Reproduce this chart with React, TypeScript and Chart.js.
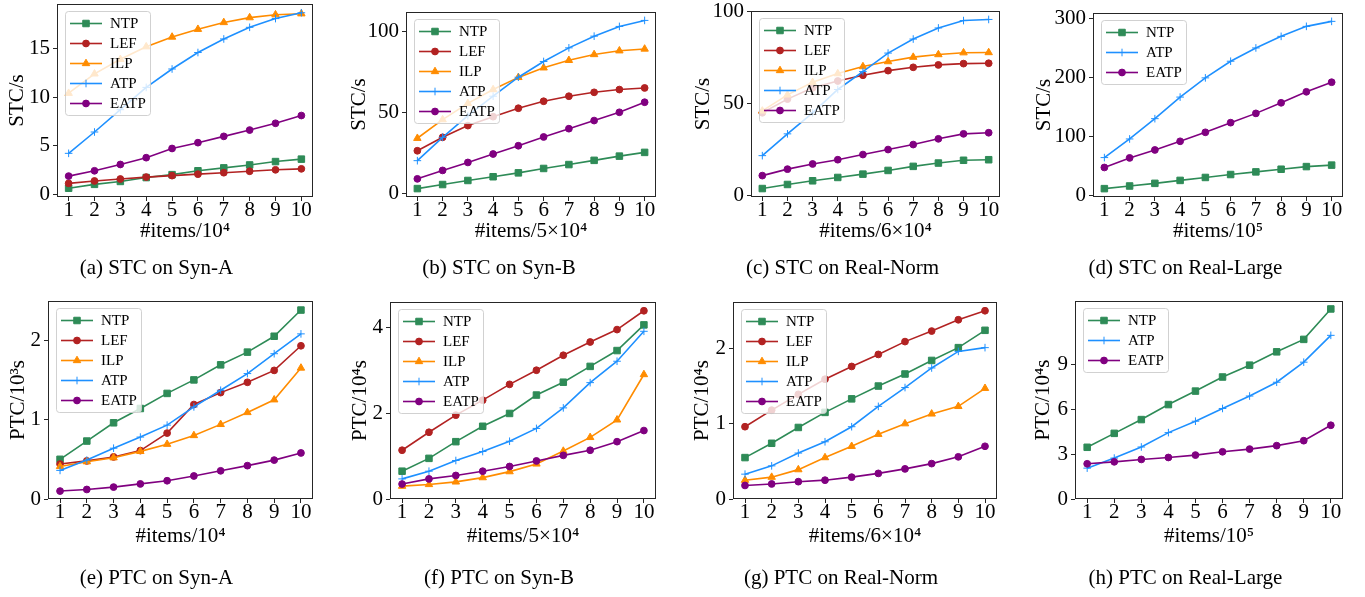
import React, { useEffect, useRef } from 'react';
import { Chart, registerables, PointElement } from 'chart.js';

Chart.register(...registerables);

const FONT_FAMILY = '"Liberation Serif", "Times New Roman", Times, serif';
Chart.defaults.font.family = FONT_FAMILY;
Chart.defaults.color = '#000';

// ---------- shared x axis ----------
const X_VALUES = [1, 2, 3, 4, 5, 6, 7, 8, 9, 10];
const X_TICKS = [1, 2, 3, 4, 5, 6, 7, 8, 9, 10];
const X_MIN = 0.55;
const X_MAX = 10.45;

// ---------- (a) STC on Syn-A ----------
const A_NTP = [0.6, 1.0, 1.3, 1.7, 2.0, 2.4, 2.7, 3.0, 3.35, 3.6];
const A_LEF = [1.1, 1.35, 1.55, 1.75, 1.9, 2.05, 2.2, 2.35, 2.5, 2.6];
const A_ILP = [10.4, 12.4, 13.9, 15.2, 16.2, 17.0, 17.7, 18.2, 18.5, 18.6];
const A_ATP = [4.2, 6.4, 8.7, 11.0, 12.9, 14.6, 16.0, 17.2, 18.1, 18.7];
const A_EATP = [1.85, 2.4, 3.05, 3.75, 4.7, 5.3, 5.95, 6.6, 7.3, 8.1];
const A_YTICKS = [0, 5, 10, 15];

// ---------- (b) STC on Syn-B ----------
const B_NTP = [3.0, 5.5, 8.0, 10.3, 12.7, 15.4, 17.8, 20.4, 23.0, 25.3];
const B_LEF = [26.3, 34.6, 41.8, 47.3, 52.5, 56.8, 59.9, 62.3, 64.0, 65.0];
const B_ILP = [34.0, 45.5, 55.5, 64.0, 71.5, 77.4, 82.0, 85.6, 87.9, 89.0];
const B_ATP = [20.2, 34.6, 47.9, 59.9, 71.6, 81.3, 89.7, 96.9, 102.9, 106.6];
const B_EATP = [9.0, 14.2, 19.1, 24.3, 29.4, 34.8, 39.9, 44.9, 50.0, 56.2];
const B_YTICKS = [0, 50, 100];

// ---------- (c) STC on Real-Norm ----------
const C_NTP = [4.0, 6.2, 8.2, 10.0, 11.8, 13.8, 16.0, 17.8, 19.3, 19.6];
const C_LEF = [45.0, 52.4, 58.5, 62.2, 65.3, 67.8, 69.6, 70.9, 71.6, 71.8];
const C_ILP = [46.0, 54.7, 61.5, 66.2, 70.0, 72.7, 75.1, 76.5, 77.5, 77.6];
const C_ATP = [21.8, 33.6, 45.0, 57.6, 67.3, 77.3, 84.9, 90.9, 94.9, 95.5];
const C_EATP = [11.0, 14.5, 17.3, 19.6, 22.4, 25.1, 27.8, 30.9, 33.6, 34.2];
const C_YTICKS = [0, 50, 100];

// ---------- (d) STC on Real-Large ----------
const D_NTP = [11, 15.5, 20, 25, 30, 35, 39.5, 44, 48.5, 51];
const D_ATP = [63.8, 95.5, 130, 166.7, 199.4, 227.7, 250.3, 270, 287, 295.5];
const D_EATP = [47, 63.3, 76.8, 91.5, 106.8, 123.2, 139, 157, 175.7, 192];
const D_YTICKS = [0, 100, 200, 300];

// ---------- (e) PTC on Syn-A ----------
const E_NTP = [0.5, 0.73, 0.96, 1.14, 1.33, 1.5, 1.69, 1.85, 2.05, 2.38];
const E_LEF = [0.44, 0.48, 0.53, 0.61, 0.83, 1.19, 1.34, 1.47, 1.62, 1.93];
const E_ILP = [0.41, 0.47, 0.52, 0.6, 0.69, 0.8, 0.94, 1.09, 1.25, 1.65];
const E_ATP = [0.36, 0.49, 0.64, 0.78, 0.93, 1.16, 1.37, 1.58, 1.83, 2.08];
const E_EATP = [0.1, 0.12, 0.15, 0.19, 0.23, 0.29, 0.355, 0.42, 0.49, 0.58];
const E_YTICKS = [0, 1, 2];

// ---------- (f) PTC on Syn-B ----------
const F_NTP = [0.65, 0.95, 1.34, 1.7, 2.0, 2.43, 2.73, 3.1, 3.47, 4.07];
const F_LEF = [1.14, 1.56, 1.96, 2.31, 2.68, 3.01, 3.36, 3.67, 3.96, 4.4];
const F_ILP = [0.3, 0.34, 0.4, 0.5, 0.64, 0.82, 1.12, 1.44, 1.85, 2.91];
const F_ATP = [0.47, 0.65, 0.9, 1.11, 1.35, 1.65, 2.13, 2.72, 3.22, 3.92];
const F_EATP = [0.35, 0.47, 0.55, 0.65, 0.76, 0.89, 1.02, 1.14, 1.34, 1.6];
const F_YTICKS = [0, 2, 4];

// ---------- (g) PTC on Real-Norm ----------
const G_NTP = [0.55, 0.74, 0.95, 1.15, 1.33, 1.5, 1.66, 1.84, 2.01, 2.24];
const G_LEF = [0.96, 1.18, 1.39, 1.59, 1.76, 1.92, 2.09, 2.23, 2.38, 2.5];
const G_ILP = [0.25, 0.29, 0.39, 0.55, 0.7, 0.86, 1.0, 1.13, 1.23, 1.47];
const G_ATP = [0.33, 0.44, 0.61, 0.76, 0.96, 1.23, 1.48, 1.74, 1.96, 2.01];
const G_EATP = [0.18, 0.2, 0.23, 0.25, 0.29, 0.34, 0.4, 0.47, 0.56, 0.7];
const G_YTICKS = [0, 1, 2];

// ---------- (h) PTC on Real-Large ----------
const H_NTP = [3.45, 4.38, 5.3, 6.3, 7.2, 8.14, 8.93, 9.82, 10.65, 12.68];
const H_ATP = [2.06, 2.73, 3.47, 4.43, 5.19, 6.04, 6.87, 7.79, 9.13, 10.92];
const H_EATP = [2.35, 2.48, 2.64, 2.77, 2.93, 3.15, 3.33, 3.56, 3.89, 4.92];
const H_YTICKS = [0, 3, 6, 9];

// ---------- series styles ----------
const SERIES_STYLE: Record<string, { color: string; pointStyle: string; radius: number }> = {
  NTP: { color: '#2e8b57', pointStyle: 'rect', radius: 4.6 },
  LEF: { color: '#b22222', pointStyle: 'circle', radius: 3.4 },
  ILP: { color: '#ff8c00', pointStyle: 'triangle', radius: 4.3 },
  ATP: { color: '#1e90ff', pointStyle: 'cross', radius: 3.8 },
  EATP: { color: '#800080', pointStyle: 'circle', radius: 3.4 },
};

type Series = { name: string; values: number[] };
type PanelCfg = {
  key: string;
  caption: string;
  xTitle: string;
  yTitle: string;
  yTicks: number[];
  yFloor?: number;
  series: Series[];
};

const PANELS: PanelCfg[] = [
  {
    key: 'a', caption: '(a) STC on Syn-A', xTitle: '#items/10⁴', yTitle: 'STC/s', yTicks: A_YTICKS,
    series: [
      { name: 'NTP', values: A_NTP }, { name: 'LEF', values: A_LEF }, { name: 'ILP', values: A_ILP },
      { name: 'ATP', values: A_ATP }, { name: 'EATP', values: A_EATP },
    ],
  },
  {
    key: 'b', caption: '(b) STC on Syn-B', xTitle: '#items/5×10⁴', yTitle: 'STC/s', yTicks: B_YTICKS,
    series: [
      { name: 'NTP', values: B_NTP }, { name: 'LEF', values: B_LEF }, { name: 'ILP', values: B_ILP },
      { name: 'ATP', values: B_ATP }, { name: 'EATP', values: B_EATP },
    ],
  },
  {
    key: 'c', caption: '(c) STC on Real-Norm', xTitle: '#items/6×10⁴', yTitle: 'STC/s', yTicks: C_YTICKS,
    series: [
      { name: 'NTP', values: C_NTP }, { name: 'LEF', values: C_LEF }, { name: 'ILP', values: C_ILP },
      { name: 'ATP', values: C_ATP }, { name: 'EATP', values: C_EATP },
    ],
  },
  {
    key: 'd', caption: '(d) STC on Real-Large', xTitle: '#items/10⁵', yTitle: 'STC/s', yTicks: D_YTICKS,
    series: [
      { name: 'NTP', values: D_NTP }, { name: 'ATP', values: D_ATP }, { name: 'EATP', values: D_EATP },
    ],
  },
  {
    key: 'e', caption: '(e) PTC on Syn-A', xTitle: '#items/10⁴', yTitle: 'PTC/10³s', yTicks: E_YTICKS, yFloor: 0,
    series: [
      { name: 'NTP', values: E_NTP }, { name: 'LEF', values: E_LEF }, { name: 'ILP', values: E_ILP },
      { name: 'ATP', values: E_ATP }, { name: 'EATP', values: E_EATP },
    ],
  },
  {
    key: 'f', caption: '(f) PTC on Syn-B', xTitle: '#items/5×10⁴', yTitle: 'PTC/10⁴s', yTicks: F_YTICKS, yFloor: 0,
    series: [
      { name: 'NTP', values: F_NTP }, { name: 'LEF', values: F_LEF }, { name: 'ILP', values: F_ILP },
      { name: 'ATP', values: F_ATP }, { name: 'EATP', values: F_EATP },
    ],
  },
  {
    key: 'g', caption: '(g) PTC on Real-Norm', xTitle: '#items/6×10⁴', yTitle: 'PTC/10⁴s', yTicks: G_YTICKS, yFloor: 0,
    series: [
      { name: 'NTP', values: G_NTP }, { name: 'LEF', values: G_LEF }, { name: 'ILP', values: G_ILP },
      { name: 'ATP', values: G_ATP }, { name: 'EATP', values: G_EATP },
    ],
  },
  {
    key: 'h', caption: '(h) PTC on Real-Large', xTitle: '#items/10⁵', yTitle: 'PTC/10⁴s', yTicks: H_YTICKS, yFloor: 0,
    series: [
      { name: 'NTP', values: H_NTP }, { name: 'ATP', values: H_ATP }, { name: 'EATP', values: H_EATP },
    ],
  },
];

// ---------- layout (page pixel coordinates) ----------
type Geom = {
  left: number; top: number; width: number; height: number;
  plotL: number; plotR: number; plotT: number; plotB: number;
  yTitleX: number; xTickY: number; xTitleY: number; captionY: number;
};
const ROW1 = { top: 0, height: 292, plotB: 197, xTickY: 210, xTitleY: 231, captionY: 268 };
const ROW2 = { top: 292, height: 305, plotB: 499, xTickY: 512.5, xTitleY: 536, captionY: 578 };
const GEOMS: Record<string, Geom> = {
  a: { ...ROW1, left: 0, width: 320, plotL: 57, plotR: 313, plotT: 4, yTitleX: 17 },
  b: { ...ROW1, left: 342, width: 320, plotL: 406, plotR: 656, plotT: 12, yTitleX: 359 },
  c: { ...ROW1, left: 685, width: 320, plotL: 751, plotR: 1000, plotT: 11, yTitleX: 703 },
  d: { ...ROW1, left: 1028, width: 320, plotL: 1093, plotR: 1343, plotT: 13, yTitleX: 1044 },
  e: { ...ROW2, left: 0, width: 320, plotL: 48, plotR: 313, plotT: 301, yTitleX: 18 },
  f: { ...ROW2, left: 342, width: 320, plotL: 390, plotR: 656, plotT: 302, yTitleX: 360 },
  g: { ...ROW2, left: 685, width: 320, plotL: 733, plotR: 997, plotT: 302, yTitleX: 702 },
  h: { ...ROW2, left: 1028, width: 320, plotL: 1075, plotR: 1343, plotT: 301, yTitleX: 1043 },
};

const TICK_FONT = 21;
const TITLE_FONT = 21;
const CAPTION_FONT = 21;
const LEGEND_FONT = 15;
const TICK_LEN = 4;
const AXIS_COLOR = '#262626';

// frame + in-plot legend (drawn above the lines, like matplotlib)
const decorPlugin = {
  id: 'figDecor',
  afterDatasetsDraw(chart: any) {
    const ctx: CanvasRenderingContext2D = chart.ctx;
    const a = chart.chartArea;
    ctx.save();
    ctx.strokeStyle = AXIS_COLOR;
    ctx.lineWidth = 1;
    ctx.strokeRect(a.left + 0.5, a.top + 0.5, a.right - a.left - 1, a.bottom - a.top - 1);

    const items = chart.data.datasets;
    const lx = Math.round(a.left + 8);
    const ly = Math.round(a.top + 7);
    ctx.font = `${LEGEND_FONT}px ${FONT_FAMILY}`;
    const textW = Math.max(...items.map((d: any) => ctx.measureText(d.label).width));
    const w = Math.round(45 + textW + 4);
    const h = 12 + (items.length - 1) * 20 + 12;
    ctx.beginPath();
    (ctx as any).roundRect(lx + 0.5, ly + 0.5, w, h, 3);
    ctx.fillStyle = 'rgba(255,255,255,0.8)';
    ctx.fill();
    ctx.strokeStyle = 'rgba(204,204,204,0.9)';
    ctx.lineWidth = 1;
    ctx.stroke();

    items.forEach((d: any, i: number) => {
      const cy = ly + 12.5 + i * 20;
      ctx.strokeStyle = d.borderColor;
      ctx.lineWidth = d.borderWidth;
      ctx.beginPath();
      ctx.moveTo(lx + 5, cy);
      ctx.lineTo(lx + 37, cy);
      ctx.stroke();
      const pt: any = new (PointElement as any)({
        x: lx + 21,
        y: cy,
        options: {
          pointStyle: d.pointStyle,
          radius: d.pointRadius,
          borderWidth: d.pointBorderWidth,
          backgroundColor: d.pointBackgroundColor,
          borderColor: d.pointBorderColor,
          rotation: 0,
        },
      });
      pt.draw(ctx, a);
      ctx.fillStyle = '#000';
      ctx.textBaseline = 'middle';
      ctx.textAlign = 'left';
      ctx.font = `${LEGEND_FONT}px ${FONT_FAMILY}`;
      ctx.fillText(d.label, lx + 45, cy + 1);
    });
    ctx.restore();
  },
};

function yRange(series: Series[], floor?: number) {
  const all = series.flatMap((s) => s.values);
  const lo = Math.min(...all);
  const hi = Math.max(...all);
  const m = (hi - lo) * 0.05;
  return { min: floor !== undefined ? floor : lo - m, max: hi + m };
}

function buildConfig(cfg: PanelCfg, g: Geom): any {
  const bottom = g.top + g.height;
  const capPb = bottom - g.captionY - CAPTION_FONT / 2;
  const capBox = CAPTION_FONT + capPb;
  const xAxisH = bottom - capBox - g.plotB;
  const xTitlePb = g.plotB + xAxisH - g.xTitleY - TITLE_FONT / 2;
  const xTickPad = g.xTickY - g.plotB - TICK_LEN - TICK_FONT / 2;
  const yTitlePt = g.yTitleX - g.left - TITLE_FONT / 2;
  const yAxisW = g.plotL - g.left;
  const { min, max } = yRange(cfg.series, cfg.yFloor);
  const n = cfg.series.length;

  const datasets = cfg.series.map((s, i) => {
    const st = SERIES_STYLE[s.name];
    return {
      label: s.name,
      data: s.values.map((v, j) => ({ x: X_VALUES[j], y: v })),
      borderColor: st.color,
      backgroundColor: st.color,
      pointBackgroundColor: st.color,
      pointBorderColor: st.color,
      pointStyle: st.pointStyle,
      pointRadius: st.radius,
      pointBorderWidth: 1,
      borderWidth: 1.6,
      tension: 0,
      fill: false,
      order: n - i,
    };
  });

  const zeroPad = (s: any) => {
    s.paddingTop = 0;
    s.paddingBottom = 0;
    s.paddingLeft = 0;
    s.paddingRight = 0;
  };

  return {
    type: 'line',
    data: { datasets },
    options: {
      animation: false,
      responsive: false,
      devicePixelRatio: 1,
      events: [],
      layout: {
        autoPadding: false,
        padding: { top: g.plotT - g.top, right: g.left + g.width - g.plotR, left: 0, bottom: 0 },
      },
      scales: {
        x: {
          type: 'linear',
          min: X_MIN,
          max: X_MAX,
          afterBuildTicks: (s: any) => {
            s.ticks = X_TICKS.map((v) => ({ value: v }));
          },
          afterFit: (s: any) => {
            s.height = xAxisH;
            zeroPad(s);
          },
          border: { display: false },
          grid: { drawOnChartArea: false, drawTicks: true, tickLength: TICK_LEN, color: AXIS_COLOR, lineWidth: 1 },
          ticks: {
            autoSkip: false,
            maxRotation: 0,
            minRotation: 0,
            padding: xTickPad,
            color: '#000',
            font: { size: TICK_FONT, lineHeight: 1 },
            callback: (v: any) => String(v),
          },
          title: {
            display: true,
            text: cfg.xTitle,
            color: '#000',
            font: { size: TITLE_FONT, lineHeight: 1 },
            padding: { top: 0, bottom: xTitlePb },
          },
        },
        y: {
          type: 'linear',
          min,
          max,
          afterBuildTicks: (s: any) => {
            s.ticks = cfg.yTicks.map((v) => ({ value: v }));
          },
          afterFit: (s: any) => {
            s.width = yAxisW;
            zeroPad(s);
          },
          border: { display: false },
          grid: { drawOnChartArea: false, drawTicks: true, tickLength: TICK_LEN, color: AXIS_COLOR, lineWidth: 1 },
          ticks: {
            autoSkip: false,
            padding: 3,
            color: '#000',
            font: { size: TICK_FONT, lineHeight: 1 },
            callback: (v: any) => String(v),
          },
          title: {
            display: true,
            text: cfg.yTitle,
            color: '#000',
            font: { size: TITLE_FONT, lineHeight: 1 },
            padding: { top: yTitlePt, bottom: 0 },
          },
        },
      },
      plugins: {
        legend: { display: false },
        tooltip: { enabled: false },
        title: {
          display: true,
          position: 'bottom',
          text: cfg.caption,
          color: '#000',
          font: { size: CAPTION_FONT, lineHeight: 1, weight: 'normal' },
          padding: { top: 0, bottom: capPb },
        },
      },
    },
    plugins: [decorPlugin],
  };
}

function Panel({ cfg }: { cfg: PanelCfg }) {
  const ref = useRef<HTMLCanvasElement | null>(null);
  const g = GEOMS[cfg.key];
  useEffect(() => {
    if (!ref.current) return;
    const chart = new Chart(ref.current, buildConfig(cfg, g));
    return () => chart.destroy();
  }, []);
  return (
    <canvas
      ref={ref}
      width={g.width}
      height={g.height}
      style={{ position: 'absolute', left: g.left, top: g.top, width: g.width, height: g.height }}
    />
  );
}

export default function App() {
  return (
    <div style={{ position: 'absolute', left: 0, top: 0, width: 1365, height: 597, background: '#fff' }}>
      {PANELS.map((p) => (
        <Panel key={p.key} cfg={p} />
      ))}
    </div>
  );
}
